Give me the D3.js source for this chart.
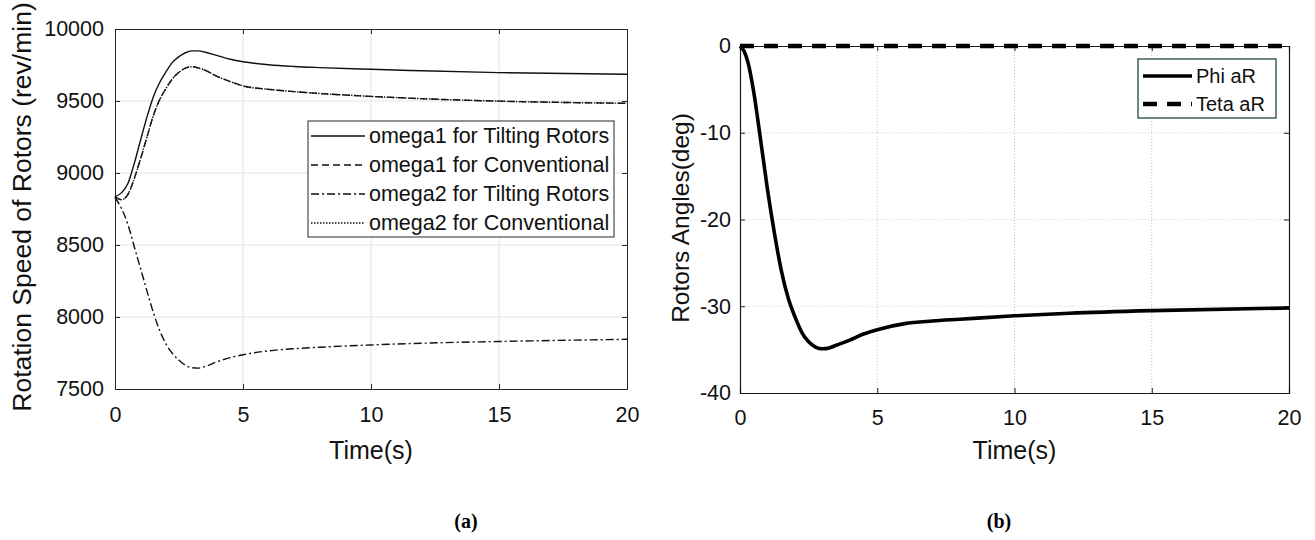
<!DOCTYPE html>
<html>
<head>
<meta charset="utf-8">
<script src="https://cdn.jsdelivr.net/npm/d3@7"></script>
<style>
  html, body { margin: 0; padding: 0; background: #fff; }
  svg { display: block; font-family: "Liberation Sans", Arial, sans-serif; }
</style>
</head>
<body>
<svg id="fig" width="1315" height="540"></svg>
<script>
// ---- Panel (a): rotor speeds ----
const timeA = [0, 0.25, 0.5, 0.75, 1, 1.25, 1.5, 1.75, 2, 2.25, 2.5, 2.75, 3, 3.25, 3.5, 4, 4.5, 5, 6, 7, 8, 10, 12, 15, 20];
const omega1Tilting = [8836, 8862, 8925, 9065, 9230, 9390, 9530, 9630, 9705, 9770, 9808, 9835, 9848, 9848, 9840, 9815, 9790, 9773, 9752, 9740, 9732, 9720, 9710, 9697, 9686];
const omega1Conventional = [8836, 8815, 8850, 8960, 9100, 9250, 9400, 9510, 9590, 9655, 9700, 9728, 9738, 9730, 9715, 9670, 9635, 9605, 9581, 9565, 9552, 9532, 9516, 9499, 9484];
const omega2Tilting = [8830, 8755, 8645, 8490, 8335, 8180, 8030, 7905, 7810, 7745, 7700, 7665, 7648, 7645, 7655, 7690, 7718, 7738, 7765, 7780, 7790, 7806, 7818, 7830, 7845];
const omega2Conventional = [8836, 8815, 8850, 8960, 9100, 9250, 9400, 9510, 9590, 9655, 9700, 9728, 9738, 9730, 9715, 9670, 9635, 9605, 9581, 9565, 9552, 9532, 9516, 9499, 9484];
const legendA = ["omega1 for Tilting Rotors", "omega1 for Conventional", "omega2 for Tilting Rotors", "omega2 for Conventional"];
const xTicksA = [0, 5, 10, 15, 20];
const yTicksA = [7500, 8000, 8500, 9000, 9500, 10000];

// ---- Panel (b): rotor angles ----
const timeB = [0, 0.15, 0.3, 0.5, 0.75, 1, 1.25, 1.5, 1.75, 2, 2.25, 2.5, 2.75, 3, 3.25, 3.5, 4, 4.5, 5, 6, 7, 8, 10, 12, 15, 20];
const phiAR = [0, -0.6, -2, -5.3, -10.8, -16.5, -21.5, -25.8, -29, -31.2, -33, -34.1, -34.7, -34.9, -34.8, -34.5, -33.9, -33.2, -32.7, -32.0, -31.7, -31.5, -31.1, -30.8, -30.5, -30.2];
const tetaAR = [0, 0, 0, 0, 0, 0, 0, 0, 0, 0, 0, 0, 0, 0, 0, 0, 0, 0, 0, 0, 0, 0, 0, 0, 0, 0];
const legendB = ["Phi aR", "Teta aR"];
const xTicksB = [0, 5, 10, 15, 20];
const yTicksB = [-40, -30, -20, -10, 0];

const captions = ["(a)", "(b)"];

const svg = d3.select("#fig");

// ================= Panel (a) =================
{
  const L = 115, R = 627, T = 29, B = 389;
  const x = d3.scaleLinear().domain([0, 20]).range([L, R]);
  const y = d3.scaleLinear().domain([7500, 10000]).range([B, T]);
  const g = svg.append("g");

  // grid
  g.append("g").selectAll("line.vg").data(xTicksA.slice(1, -1)).join("line")
    .attr("x1", d => x(d)).attr("x2", d => x(d)).attr("y1", T).attr("y2", B)
    .attr("stroke", "#e3e3e3").attr("stroke-width", 1);
  g.append("g").selectAll("line.hg").data(yTicksA.slice(1, -1)).join("line")
    .attr("x1", L).attr("x2", R).attr("y1", d => y(d)).attr("y2", d => y(d))
    .attr("stroke", "#e3e3e3").attr("stroke-width", 1);

  // axes with inward ticks
  const ax = g.append("g").attr("transform", `translate(0,${B})`)
    .call(d3.axisBottom(x).tickValues(xTicksA).tickSize(-5).tickPadding(18).tickFormat(d3.format("d")));
  const ay = g.append("g").attr("transform", `translate(${L},0)`)
    .call(d3.axisLeft(y).tickValues(yTicksA).tickSize(-5).tickPadding(11).tickFormat(d3.format("d")));
  const axT = g.append("g").attr("transform", `translate(0,${T})`)
    .call(d3.axisTop(x).tickValues(xTicksA).tickSize(-5).tickFormat(""));
  const ayR = g.append("g").attr("transform", `translate(${R},0)`)
    .call(d3.axisRight(y).tickValues(yTicksA).tickSize(-5).tickFormat(""));
  [ax, ay, axT, ayR].forEach(a => {
    a.select(".domain").attr("stroke", "#262626").attr("stroke-width", 1);
    a.selectAll(".tick line").attr("stroke", "#262626");
    a.selectAll("text").attr("font-size", 21.5).attr("fill", "#111")
      .attr("font-family", "'Liberation Sans', Arial, sans-serif");
  });
  ax.selectAll("text").attr("dy", "0.71em");

  // curves
  const series = [
    { v: omega1Tilting, dash: null },
    { v: omega1Conventional, dash: "7,4" },
    { v: omega2Tilting, dash: "8,3,2,3" },
    { v: omega2Conventional, dash: "1.5,1.5" }
  ];
  const line = d3.line().x(d => x(d[0])).y(d => y(d[1])).curve(d3.curveMonotoneX);
  series.forEach(s => {
    g.append("path").datum(timeA.map((t, i) => [t, s.v[i]]))
      .attr("d", line).attr("fill", "none").attr("stroke", "#111")
      .attr("stroke-width", 1.4).attr("stroke-dasharray", s.dash);
  });

  // labels
  g.append("text").attr("x", (L + R) / 2).attr("y", 459).attr("text-anchor", "middle")
    .attr("font-size", 25).attr("fill", "#111").text("Time(s)");
  g.append("text").attr("transform", `translate(22,${207}) rotate(-90)`)
    .attr("text-anchor", "middle").attr("dominant-baseline", "central")
    .attr("font-size", 26.5).attr("fill", "#111").text("Rotation Speed of Rotors (rev/min)");

  // legend
  const lx = 308, ly = 121, lw = 306, lh = 116;
  const lg = g.append("g");
  lg.append("rect").attr("x", lx).attr("y", ly).attr("width", lw).attr("height", lh)
    .attr("fill", "#fff").attr("stroke", "#262626").attr("stroke-width", 1);
  series.forEach((s, i) => {
    const cy = ly + 15 + i * 29;
    lg.append("line").attr("x1", lx + 3).attr("x2", lx + 57).attr("y1", cy).attr("y2", cy)
      .attr("stroke", "#111").attr("stroke-width", 1.4).attr("stroke-dasharray", s.dash);
    lg.append("text").attr("x", lx + 61).attr("y", cy).attr("dominant-baseline", "central")
      .attr("font-size", 21.5).attr("fill", "#111").text(legendA[i]);
  });
}

// ================= Panel (b) =================
{
  const L = 740, R = 1289, T = 46, B = 393;
  const x = d3.scaleLinear().domain([0, 20]).range([L, R]);
  const y = d3.scaleLinear().domain([-40, 0]).range([B, T]);
  const g = svg.append("g");

  // dotted grid
  g.append("g").selectAll("line").data(xTicksB.slice(1, -1)).join("line")
    .attr("x1", d => x(d)).attr("x2", d => x(d)).attr("y1", T).attr("y2", B)
    .attr("stroke", "#b9b9d6").attr("stroke-width", 1).attr("stroke-dasharray", "1,2");
  g.append("g").selectAll("line").data(yTicksB.slice(1, -1)).join("line")
    .attr("x1", L).attr("x2", R).attr("y1", d => y(d)).attr("y2", d => y(d))
    .attr("stroke", "#e2cccc").attr("stroke-width", 1).attr("stroke-dasharray", "1,2");

  const ax = g.append("g").attr("transform", `translate(0,${B})`)
    .call(d3.axisBottom(x).tickValues(xTicksB).tickSize(-5).tickPadding(17).tickFormat(d3.format("d")));
  const ay = g.append("g").attr("transform", `translate(${L},0)`)
    .call(d3.axisLeft(y).tickValues(yTicksB).tickSize(-5).tickPadding(9).tickFormat(d3.format("d")));
  const axT = g.append("g").attr("transform", `translate(0,${T})`)
    .call(d3.axisTop(x).tickValues(xTicksB).tickSize(-5).tickFormat(""));
  const ayR = g.append("g").attr("transform", `translate(${R},0)`)
    .call(d3.axisRight(y).tickValues(yTicksB).tickSize(-5).tickFormat(""));
  [ax, ay, axT, ayR].forEach(a => {
    a.select(".domain").attr("stroke", "#1a1a1a").attr("stroke-width", 1.2);
    a.selectAll(".tick line").attr("stroke", "#1a1a1a");
    a.selectAll("text").attr("font-size", 21.5).attr("fill", "#111")
      .attr("font-family", "'Liberation Sans', Arial, sans-serif");
  });
  ax.selectAll("text").attr("dy", "0.71em");
  ay.selectAll("text").text(d => d < 0 ? "-" + Math.abs(d) : d);

  const line = d3.line().x(d => x(d[0])).y(d => y(d[1])).curve(d3.curveMonotoneX);
  g.append("path").datum(timeB.map((t, i) => [t, phiAR[i]]))
    .attr("d", line).attr("fill", "none").attr("stroke", "#000").attr("stroke-width", 3.6)
    .attr("stroke-linejoin", "round");
  g.append("path").datum(timeB.map((t, i) => [t, tetaAR[i]]))
    .attr("d", line).attr("fill", "none").attr("stroke", "#000").attr("stroke-width", 4.5)
    .attr("stroke-dasharray", "14,10");

  g.append("text").attr("x", (L + R) / 2).attr("y", 459).attr("text-anchor", "middle")
    .attr("font-size", 25).attr("fill", "#111").text("Time(s)");
  g.append("text").attr("transform", `translate(680,${218}) rotate(-90)`)
    .attr("text-anchor", "middle").attr("dominant-baseline", "central")
    .attr("font-size", 24.5).attr("fill", "#111").text("Rotors Angles(deg)");

  // legend
  const lx = 1138, ly = 59, lw = 138, lh = 59;
  const lg = g.append("g");
  lg.append("rect").attr("x", lx).attr("y", ly).attr("width", lw).attr("height", lh)
    .attr("fill", "#fff").attr("stroke", "#1f4a2e").attr("stroke-width", 1.3);
  const styles = [{ w: 3.6, dash: null }, { w: 4.5, dash: "14,10" }];
  styles.forEach((s, i) => {
    const cy = ly + 17 + i * 28;
    lg.append("line").attr("x1", lx + 5).attr("x2", lx + 54).attr("y1", cy).attr("y2", cy)
      .attr("stroke", "#000").attr("stroke-width", s.w).attr("stroke-dasharray", s.dash);
    lg.append("text").attr("x", lx + 58).attr("y", cy).attr("dominant-baseline", "central")
      .attr("font-size", 20).attr("fill", "#111").text(legendB[i]);
  });
}

// captions
svg.selectAll("text.cap").data(captions).join("text")
  .attr("class", "cap")
  .attr("x", (d, i) => [466, 999][i]).attr("y", 528)
  .attr("text-anchor", "middle")
  .attr("font-family", "'Liberation Serif', 'Times New Roman', serif")
  .attr("font-weight", "bold").attr("font-size", 20).attr("fill", "#000")
  .text(d => d);
</script>
</body>
</html>
